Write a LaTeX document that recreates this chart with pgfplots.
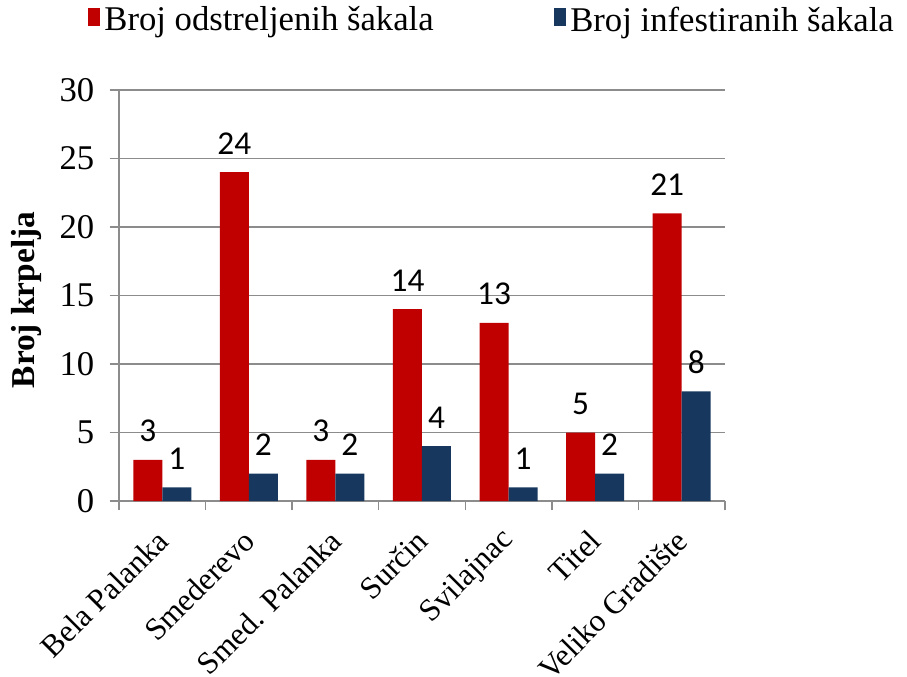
\documentclass[border=0pt]{standalone}
\usepackage{pgfplots}
\pgfplotsset{compat=1.18}
\usepackage{fontspec}
\setmainfont{Liberation Serif}
\newfontfamily\labelfont{Carlito}
\definecolor{barred}{HTML}{C00000}
\definecolor{barblue}{HTML}{17375E}
\definecolor{gridgray}{HTML}{8C8C8C}
\begin{document}
\begin{tikzpicture}
\path[use as bounding box] (-89.25pt,-131.25pt) rectangle (591pt,375.75pt);
\begin{axis}[
  at={(0,0)}, anchor=south west,
  scale only axis,
  width=454.5pt, height=308.25pt,
  ybar=0pt, bar width=21.75pt,
  xmin=-0.5, xmax=6.5,
  ymin=0, ymax=30,
  ytick={0,5,...,30},
  xtick={0,...,6},
  xticklabels={Bela Palanka,Smederevo,Smed. Palanka,Surčin,Svilajnac,Titel,Veliko Gradište},
  minor xtick={-0.5,0.5,...,6.5},
  axis x line*=bottom, axis y line*=left,
  axis line style={gridgray, line width=1.1pt},
  ymajorgrids, grid style={gridgray, line width=1.1pt},
  tick align=outside,
  major x tick style={draw=none},
  minor x tick style={gridgray, line width=1.1pt},
  ytick style={gridgray, line width=1.1pt},
  major tick length=7pt, minor tick length=7pt,
  /pgf/number format/assume math mode=true,
  yticklabel style={font=\fontsize{26}{30}\selectfont, xshift=-8pt},
  xticklabel style={font=\fontsize{23.5}{27}\selectfont, xshift=2.7pt, yshift=-16.5pt, rotate=45, anchor=east},
  ylabel={\bfseries Broj krpelja},
  ylabel style={font=\fontsize{25}{30}\selectfont, at={(axis description cs:-0.152,0.489)}, anchor=center, rotate=0},
  nodes near coords,
  nodes near coords style={font=\labelfont\fontsize{25}{30}\selectfont, text=black, yshift=10pt},
  legend columns=2,
  legend style={draw=none, fill=none, at={(axis description cs:-0.052,1.21)}, anchor=north west,
    font=\fontsize{26}{31}\selectfont, inner sep=0pt,
    /tikz/every even column/.append style={column sep=88pt}},
  legend image code/.code={\fill[#1] (0pt,-5pt) rectangle (9pt,9pt); \path (10.5pt,0pt);},
  clip=false,
]
\addplot[fill=barred, draw=none] coordinates {
  (0,3) (1,24) (2,3) (3,14) (4,13) (5,5) (6,21)
};
\addplot[fill=barblue, draw=none] coordinates {
  (0,1) (1,2) (2,2) (3,4) (4,1) (5,2) (6,8)
};
\legend{Broj odstreljenih šakala, Broj infestiranih šakala}
\end{axis}
\end{tikzpicture}
\end{document}
